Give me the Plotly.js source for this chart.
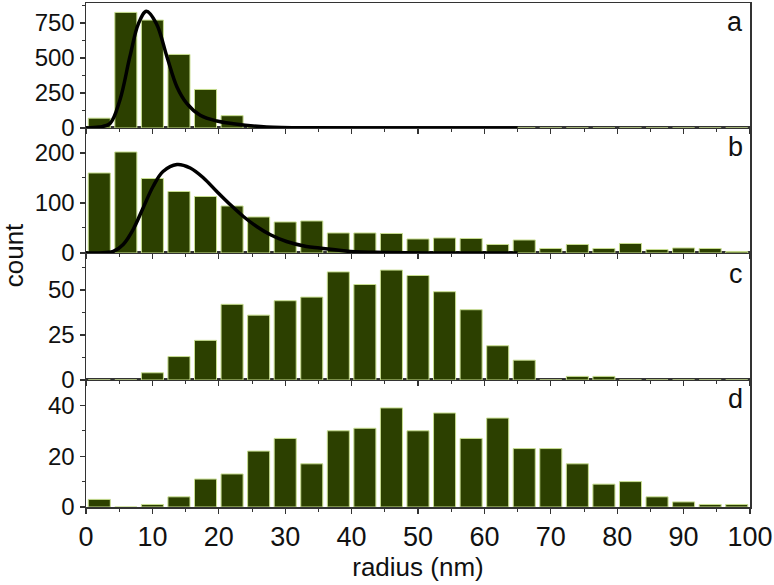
<!DOCTYPE html>
<html>
<head>
<meta charset="utf-8">
<script src="https://cdn.plot.ly/plotly-3.0.1.min.js"></script>
<style>html,body{margin:0;padding:0;background:#fff;}#chart{width:774px;height:585px;}</style>
</head>
<body>
<div id="chart"></div>
<script>
// Bin centres (radius, nm) – 4 nm bins
const binCenters = [2,6,10,14,18,22,26,30,34,38,42,46,50,54,58,62,66,70,74,78,82,86,90,94,98];

// Counts per panel
const countsA = [70,825,770,525,275,88,10,0,0,0,0,0,0,0,0,0,0,0,0,0,0,0,0,0,0];
const countsB = [160,202,149,123,113,94,72,62,64,40,40,39,28,30,29,17,26,9,17,9,19,7,10,9,3];
const countsC = [0,0,4,13,22,42,36,44,46,60,53,61,58,49,39,19,11,0,2,2,0,0,0,0,0];
const countsD = [3,0,1,4,11,13,22,27,17,30,31,39,30,37,27,35,23,23,17,9,10,4,2,1,1];

// Fit curves
const fitAx = [0,2,3.6,5.1,6.6,7.9,9.1,10.6,12.2,13.7,15.2,17.2,19.7,22.2,27.2,35,45,55,65];
const fitAy = [0,7,31,198,507,745,833,745,507,293,174,91,50,31,7,1,0,0,0];
const fitBx = [0,2,4.1,5.6,7.1,8.6,10.1,11.6,13.7,15.7,17.7,19.7,21.7,23.7,25.7,27.7,30.2,33.2,35.2,39.8,45,55,65];
const fitBy = [0,0,3,17,47,90,133,163,177,170,150,123,97,73,53,37,23,13,10,3,1,0,0];

const panelLabels = ['a','b','c','d'];

const barFill = '#2c4000';
const barEdge = '#c8de90';
const axColor = '#333333';
const fontFam = 'Liberation Sans, Arial, sans-serif';

function bar(y, xa, ya) {
  return {type:'bar', x: binCenters, y: y, xaxis: xa, yaxis: ya,
    marker:{color: barFill, line:{color: barEdge, width: 1}}, hoverinfo:'skip'};
}
function fit(x, y, xa, ya) {
  return {type:'scatter', mode:'lines', x: x, y: y, xaxis: xa, yaxis: ya,
    line:{color:'#000', width:3.5, shape:'spline', smoothing:1}, hoverinfo:'skip'};
}

const traces = [
  bar(countsD, 'x', 'y'),
  bar(countsC, 'x2', 'y2'),
  bar(countsB, 'x3', 'y3'),
  bar(countsA, 'x4', 'y4'),
  fit(fitBx, fitBy, 'x3', 'y3'),
  fit(fitAx, fitAy, 'x4', 'y4')
];

function xax(anchor, showLabels) {
  return {anchor: anchor, range:[0,100], dtick:10, tick0:0, showgrid:false, zeroline:false,
    showline:true, mirror:true, linecolor: axColor, linewidth:1.5,
    ticks:'outside', ticklen:5, tickwidth:1.2, tickcolor: axColor,
    minor:{dtick:5, ticks:'outside', ticklen:3, tickwidth:1, tickcolor: axColor},
    showticklabels: showLabels, tickfont:{size:27, color:'#111', family: fontFam}};
}
function yax(anchor, domain, range, dtick) {
  return {anchor: anchor, domain: domain, range: range, dtick: dtick, tick0:0,
    showgrid:false, zeroline:false, showline:true, mirror:true, linecolor: axColor, linewidth:1.5,
    ticks:'outside', ticklen:5, tickwidth:1.2, tickcolor: axColor,
    minor:{dtick: dtick/2, ticks:'outside', ticklen:3, tickwidth:1, tickcolor: axColor},
    tickfont:{size:24, color:'#111', family: fontFam}};
}

const xa1 = xax('y', true);
xa1.title = {text:'radius (nm)', font:{size:26, color:'#111', family: fontFam}, standoff: 4};
const xa2 = xax('y2', false); xa2.matches = 'x';
const xa3 = xax('y3', false); xa3.matches = 'x';
const xa4 = xax('y4', false); xa4.matches = 'x';

const lblFont = {size:27, color:'#111', family: fontFam};

const layout = {
  width:774, height:585,
  margin:{l:86, r:24, t:3, b:78},
  paper_bgcolor:'#fff', plot_bgcolor:'#fff',
  showlegend:false, bargap:0.17,
  font:{family: fontFam, color:'#111'},
  xaxis: xa1, xaxis2: xa2, xaxis3: xa3, xaxis4: xa4,
  yaxis: yax('x', [0, 0.252], [0, 50], 20),
  yaxis2: yax('x2', [0.252, 0.504], [0, 70.5], 25),
  yaxis3: yax('x3', [0.504, 0.752], [0, 250], 100),
  yaxis4: yax('x4', [0.752, 1], [0, 892], 250),
  annotations: [
    {text:'count', xref:'paper', yref:'paper', x:-0.108, y:0.5, xanchor:'center', yanchor:'middle',
     textangle:-90, showarrow:false, font:{size:26, color:'#111', family: fontFam}},
    {text: panelLabels[0], xref:'paper', yref:'y4 domain', x:0.992, y:1, xanchor:'right', yanchor:'middle', yshift:-19, showarrow:false, font: lblFont},
    {text: panelLabels[1], xref:'paper', yref:'y3 domain', x:0.992, y:1, xanchor:'right', yanchor:'middle', yshift:-19, showarrow:false, font: lblFont},
    {text: panelLabels[2], xref:'paper', yref:'y2 domain', x:0.992, y:1, xanchor:'right', yanchor:'middle', yshift:-21, showarrow:false, font: lblFont},
    {text: panelLabels[3], xref:'paper', yref:'y domain', x:0.992, y:1, xanchor:'right', yanchor:'middle', yshift:-19, showarrow:false, font: lblFont}
  ]
};

Plotly.newPlot('chart', traces, layout, {staticPlot:true, displayModeBar:false});
</script>
</body>
</html>
